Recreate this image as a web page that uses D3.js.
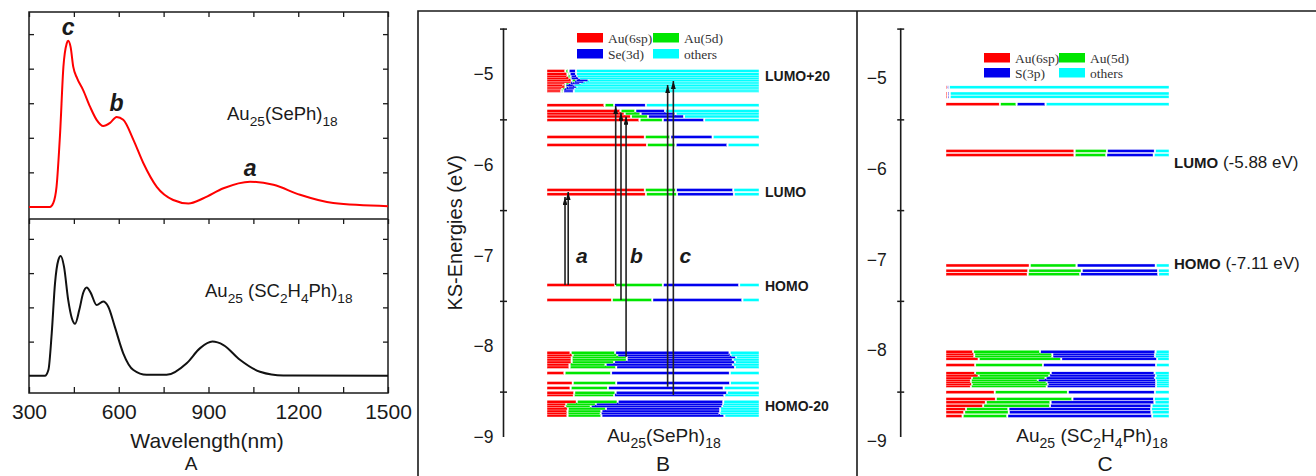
<!DOCTYPE html>
<html>
<head>
<meta charset="utf-8">
<script src="https://cdn.jsdelivr.net/npm/d3@7"></script>
<style>
    body { margin: 0; background: #fff; }
    svg { display: block; font-family: "Liberation Sans", Arial, sans-serif; }
</style>
</head>
<body>
<svg id="fig" width="1316" height="476"></svg>
<script>
// ---- panel A : absorption spectra ----
var wlSePh = [300, 370, 381, 392, 404, 415, 426, 431, 439, 448, 461, 481, 504, 526, 548, 571, 593, 615,
    649, 682, 727, 782, 833, 883, 950, 1039, 1117, 1206, 1317, 1500];
var absSePh = [0, 0, 0.11, 0.58, 2.14, 4.05, 4.73, 4.81, 4.63, 4.05, 3.72, 3.38, 2.9, 2.52, 2.34, 2.43, 2.6, 2.52,
    1.94, 1.27, 0.58, 0.2, 0.1, 0.25, 0.54, 0.73, 0.64, 0.35, 0.11, 0.02];
var wlSC = [300, 353, 365, 376, 387, 398, 406, 417, 431, 443, 454, 468, 481, 493, 506, 526, 548, 565, 587,
    615, 649, 693, 760, 827, 872, 913, 950, 1005, 1072, 1150, 1500];
var absSC = [0, 0, 0.18, 1.25, 2.71, 3.38, 3.5, 3.19, 2.22, 1.69, 1.52, 1.92, 2.42, 2.58, 2.43, 2.07, 2.17, 2.02, 1.43,
    0.66, 0.17, 0.03, 0.03, 0.37, 0.81, 1.0, 0.9, 0.47, 0.12, 0.01, 0];
var wlTicks = [300, 450, 600, 750, 900, 1050, 1200, 1350, 1500];
var peakLabels = ["c", "b", "a"];
var peakIndex = [7, 16, 25];   // index into wlSePh / absSePh

// ---- panel B : Au25(SePh)18 levels, energy (eV) and [Au6sp, Au5d, Se3d, others] ----
var energiesB = [-4.967, -5.000, -5.025, -5.044, -5.066, -5.083, -5.099, -5.121, -5.138, -5.154, -5.171, -5.187,
    -5.345, -5.408, -5.435, -5.468, -5.507, -5.694, -5.782, -6.278, -6.326,
    -7.325, -7.490, -8.071, -8.096, -8.118, -8.146, -8.174, -8.201, -8.229, -8.295, -8.405, -8.460,
    -8.512, -8.537, -8.611, -8.636, -8.658, -8.686, -8.714, -8.739, -8.763];
var compB = [
    [0.09, 0.015, 0.035, 0.86], [0.10, 0.01, 0.03, 0.86], [0.10, 0.015, 0.03, 0.855], [0.11, 0.005, 0.04, 0.845],
    [0.12, 0.02, 0.06, 0.80], [0.12, 0.01, 0.05, 0.82], [0.09, 0.02, 0.05, 0.84], [0.08, 0.01, 0.04, 0.87],
    [0.09, 0.01, 0.045, 0.855], [0.075, 0.015, 0.045, 0.865], [0.07, 0.01, 0.05, 0.87], [0.07, 0.01, 0.05, 0.87],
    [0.275, 0.045, 0.15, 0.53], [0.35, 0.07, 0.14, 0.44], [0.37, 0.075, 0.165, 0.39], [0.40, 0.08, 0.17, 0.35],
    [0.44, 0.11, 0.195, 0.255], [0.465, 0.12, 0.20, 0.215], [0.475, 0.135, 0.245, 0.145],
    [0.465, 0.147, 0.27, 0.118], [0.47, 0.147, 0.268, 0.115],
    [0.325, 0.225, 0.36, 0.09], [0.31, 0.19, 0.425, 0.075],
    [0.115, 0.21, 0.54, 0.135], [0.125, 0.21, 0.535, 0.13], [0.12, 0.26, 0.515, 0.105], [0.12, 0.26, 0.50, 0.12],
    [0.12, 0.20, 0.57, 0.11], [0.11, 0.17, 0.60, 0.12], [0.11, 0.22, 0.56, 0.11], [0.086, 0.22, 0.56, 0.134],
    [0.125, 0.205, 0.537, 0.133], [0.115, 0.176, 0.546, 0.163], [0.132, 0.195, 0.526, 0.147], [0.13, 0.19, 0.52, 0.16],
    [0.144, 0.193, 0.498, 0.165], [0.094, 0.14, 0.60, 0.166], [0.09, 0.12, 0.62, 0.17], [0.102, 0.18, 0.538, 0.18],
    [0.10, 0.16, 0.56, 0.18], [0.10, 0.157, 0.56, 0.183], [0.10, 0.16, 0.58, 0.16]
];
// transitions a, b, c: x as fraction of the bar, from / to energy
var arrowX = [0.085, 0.10, 0.324, 0.349, 0.373, 0.569, 0.596];
var arrowFrom = [-7.325, -7.325, -7.325, -7.490, -8.115, -8.446, -8.537];
var arrowTo = [-6.355, -6.300, -5.353, -5.426, -5.470, -5.121, -5.077];
var transLabels = ["a", "b", "c"];
var transLabelX = [0.164, 0.422, 0.653];
var levelNamesB = ["LUMO+20", "LUMO", "HOMO", "HOMO-20"];
var levelNameEB = [-5.025, -6.30, -7.335, -8.655];

// ---- panel C : Au25(SC2H4Ph)18 levels, [Au6sp, Au5d, S3p, others] ----
var energiesC = [-5.147, -5.215, -5.250, -5.334, -5.848, -5.893,
    -7.110, -7.167, -7.207,
    -8.060, -8.085, -8.111, -8.137, -8.207, -8.298, -8.322, -8.347, -8.372, -8.394, -8.416, -8.438,
    -8.507, -8.581, -8.618, -8.655, -8.691, -8.728, -8.769];
var compC = [
    [0.007, 0, 0.01, 0.983], [0.01, 0, 0.01, 0.98], [0.01, 0, 0.01, 0.98],
    [0.245, 0.075, 0.13, 0.55], [0.58, 0.145, 0.215, 0.06], [0.58, 0.142, 0.213, 0.065],
    [0.379, 0.21, 0.355, 0.056], [0.372, 0.24, 0.342, 0.046], [0.37, 0.235, 0.35, 0.045],
    [0.125, 0.30, 0.518, 0.057], [0.13, 0.35, 0.46, 0.06], [0.13, 0.35, 0.46, 0.06], [0.15, 0.37, 0.43, 0.05],
    [0.134, 0.304, 0.507, 0.055], [0.134, 0.339, 0.466, 0.061], [0.15, 0.316, 0.478, 0.056], [0.12, 0.33, 0.49, 0.06],
    [0.115, 0.30, 0.53, 0.055], [0.115, 0.34, 0.49, 0.055], [0.12, 0.34, 0.485, 0.055], [0.115, 0.34, 0.49, 0.055],
    [0.222, 0.328, 0.39, 0.06], [0.227, 0.343, 0.366, 0.064], [0.182, 0.29, 0.466, 0.062], [0.17, 0.30, 0.455, 0.075],
    [0.093, 0.19, 0.64, 0.077], [0.085, 0.20, 0.64, 0.075], [0.078, 0.20, 0.65, 0.072]
];
var levelNamesC = ["LUMO", "HOMO"];
var levelValuesC = [" (-5.88 eV)", " (-7.11 eV)"];
var levelNameEC = [-5.97, -7.09];

var energyTicks = [-9, -8, -7, -6, -5];
var energyMinor = [-8.5, -7.5, -6.5, -5.5, -4.5];
var legendB = ["Au(6sp)", "Au(5d)", "Se(3d)", "others"];
var legendC = ["Au(6sp)", "Au(5d)", "S(3p)", "others"];
var orbitalColors = ["#ff0000", "#00e600", "#0000ee", "#00ffff"];

var ink = "#1a1a1a";
var svg = d3.select("#fig");

// label with subscripts, parts = [[text, isSub], ...]
function subLabel(g, x, y, parts, size, anchor) {
    var t = g.append("text")
        .attr("x", x).attr("y", y)
        .attr("font-size", size)
        .attr("fill", ink)
        .attr("text-anchor", anchor || "start");
    parts.forEach(function (p, i) {
        var prevSub = i > 0 && parts[i - 1][1];
        var dy = 0;
        if (p[1] && !prevSub) dy = size * 0.3;
        if (!p[1] && prevSub) dy = -size * 0.3;
        t.append("tspan")
            .attr("font-size", p[1] ? size * 0.74 : size)
            .attr("dy", dy)
            .text(p[0]);
    });
    return t;
}

// frames round panels B and C
svg.append("path")
    .attr("d", "M418,476V11H1316M857,11V476")
    .attr("fill", "none").attr("stroke", ink).attr("stroke-width", 1.6);

// ================= panel A =================
var xA = d3.scaleLinear().domain([300, 1500]).range([29, 388]);
var yTop = d3.scaleLinear().domain([-0.35, 5.64]).range([219, 12]);
var yBot = d3.scaleLinear().domain([-0.5, 4.58]).range([393, 219]);
var gA = svg.append("g");

function noDomain(g) { g.select(".domain").remove(); }

gA.append("g").attr("transform", "translate(0,393)")
    .call(d3.axisBottom(xA).tickValues(wlTicks).tickSize(-6).tickPadding(11)
        .tickFormat(function (d) { return d % 300 === 0 ? d : ""; }))
    .call(noDomain)
    .call(function (g) {
        g.selectAll("text").attr("font-size", 21).attr("fill", ink)
            .attr("font-family", "Liberation Sans, Arial, sans-serif");
    });
gA.append("g").attr("transform", "translate(0,12)")
    .call(d3.axisTop(xA).tickValues(wlTicks).tickSize(-5).tickFormat("")).call(noDomain);
gA.append("g").attr("transform", "translate(0,219)")
    .call(d3.axisTop(xA).tickValues(wlTicks).tickSize(-5).tickFormat("")).call(noDomain);
gA.append("g").attr("transform", "translate(29,0)")
    .call(d3.axisLeft(yTop).tickValues([1, 2, 3, 4, 5]).tickSize(-5).tickFormat("")).call(noDomain);
gA.append("g").attr("transform", "translate(388,0)")
    .call(d3.axisRight(yTop).tickValues([1, 2, 3, 4, 5]).tickSize(-5).tickFormat("")).call(noDomain);
gA.append("g").attr("transform", "translate(29,0)")
    .call(d3.axisLeft(yBot).tickValues([1, 2, 3, 4]).tickSize(-5).tickFormat("")).call(noDomain);
gA.append("g").attr("transform", "translate(388,0)")
    .call(d3.axisRight(yBot).tickValues([1, 2, 3, 4]).tickSize(-5).tickFormat("")).call(noDomain);
gA.selectAll(".tick line").attr("stroke", ink).attr("stroke-width", 1.3);

gA.append("rect")
    .attr("x", xA(300)).attr("y", yTop.range()[1])
    .attr("width", xA(1500) - xA(300)).attr("height", yBot.range()[0] - yTop.range()[1])
    .attr("fill", "none").attr("stroke", ink).attr("stroke-width", 1.5);
gA.append("line")
    .attr("x1", xA(300)).attr("x2", xA(1500)).attr("y1", 219).attr("y2", 219)
    .attr("stroke", ink).attr("stroke-width", 1.5);

var lineTop = d3.line().curve(d3.curveMonotoneX)
    .x(function (d, i) { return xA(wlSePh[i]); })
    .y(function (d) { return yTop(d); });
var lineBot = d3.line().curve(d3.curveMonotoneX)
    .x(function (d, i) { return xA(wlSC[i]); })
    .y(function (d) { return yBot(d); });

gA.append("path").datum(absSePh).attr("d", lineTop)
    .attr("fill", "none").attr("stroke", "#ff0000").attr("stroke-width", 2);
gA.append("path").datum(absSC).attr("d", lineBot)
    .attr("fill", "none").attr("stroke", "#111").attr("stroke-width", 2);

gA.selectAll(".peak")
    .data(peakLabels)
    .enter().append("text")
    .attr("class", "peak")
    .attr("x", function (d, i) { return xA(wlSePh[peakIndex[i]]); })
    .attr("y", function (d, i) { return yTop(absSePh[peakIndex[i]]) - 6; })
    .attr("text-anchor", "middle")
    .attr("font-size", 23).attr("font-weight", "bold").attr("font-style", "italic")
    .attr("fill", ink)
    .text(function (d) { return d; });

subLabel(gA, 227, 120, [["Au", 0], ["25", 1], ["(SePh)", 0], ["18", 1]], 18.5);
subLabel(gA, 205, 297, [["Au", 0], ["25", 1], [" (SC", 0], ["2", 1], ["H", 0], ["4", 1], ["Ph)", 0], ["18", 1]], 18.5);

gA.append("text")
    .attr("x", 207).attr("y", 448)
    .attr("text-anchor", "middle").attr("font-size", 21).attr("fill", ink)
    .text("Wavelength(nm)");
gA.append("text")
    .attr("x", 191).attr("y", 470)
    .attr("text-anchor", "middle").attr("font-size", 19).attr("fill", ink)
    .text("A");

// ================= panels B and C =================
var yE = d3.scaleLinear().domain([-9, -4.5]).range([437, 28.6]);

function energyAxis(g, x, pad, labelShift) {
    g.append("line")
        .attr("x1", x).attr("x2", x)
        .attr("y1", yE(-4.5)).attr("y2", yE(-9))
        .attr("stroke", ink).attr("stroke-width", 1.6);
    g.append("g").attr("transform", "translate(" + (x + 3.5) + ",0)")
        .call(d3.axisLeft(yE).tickValues(energyMinor).tickSize(7).tickFormat(""))
        .call(noDomain)
        .selectAll("line").attr("stroke", ink).attr("stroke-width", 1.5);
    g.append("g").attr("transform", "translate(" + x + "," + labelShift + ")")
        .call(d3.axisLeft(yE).tickValues(energyTicks).tickSize(0).tickPadding(pad)
            .tickFormat(d3.format("d")))
        .call(noDomain)
        .selectAll("text").attr("font-size", 17.5).attr("fill", ink)
        .attr("font-family", "Liberation Sans, Arial, sans-serif");
}

function drawLevels(g, xs, energies, comps) {
    var gap = 1.5;
    var rows = energies.map(function (e, i) {
        var acc = 0;
        var segs = comps[i].map(function (f, k) {
            var s = { k: k, x0: acc, x1: acc + f };
            acc += f;
            return s;
        }).filter(function (s) { return s.x1 - s.x0 > 0; });
        return { e: e, segs: segs };
    }).sort(function (a, b) { return a.e - b.e; });

    g.selectAll(".level")
        .data(rows)
        .enter().append("g")
        .attr("class", "level")
        .selectAll("rect")
        .data(function (d) { return d.segs.map(function (s) { return { e: d.e, s: s, last: s === d.segs[d.segs.length - 1] }; }); })
        .enter().append("rect")
        .attr("x", function (d) { return xs(d.s.x0); })
        .attr("y", function (d) { return yE(d.e) - 1.5; })
        .attr("width", function (d) {
            var w = xs(Math.min(1, d.s.x1)) - xs(d.s.x0) - (d.last ? 0 : gap);
            return Math.max(0.6, w);
        })
        .attr("height", 3)
        .attr("fill", function (d) { return orbitalColors[d.s.k]; })
        .attr("stroke", "#fff").attr("stroke-width", 0.4);
}

function drawLegend(g, names, x0, y0, colW, rowH) {
    var item = g.selectAll(".leg")
        .data(names)
        .enter().append("g")
        .attr("class", "leg")
        .attr("transform", function (d, i) {
            return "translate(" + (x0 + (i % 2) * colW) + "," + (y0 + Math.floor(i / 2) * rowH) + ")";
        });
    item.append("rect")
        .attr("width", 26).attr("height", 9.5)
        .attr("fill", function (d, i) { return orbitalColors[i]; });
    item.append("text")
        .attr("x", 31).attr("y", 9.5)
        .attr("font-family", "Liberation Serif, Times New Roman, serif")
        .attr("font-size", 13.5).attr("fill", "#333")
        .text(function (d) { return d; });
}

// ---- B ----
var gB = svg.append("g");
var xB = d3.scaleLinear().domain([0, 1]).range([547, 759]);
energyAxis(gB, 503.5, 10, 0);
drawLevels(gB, xB, energiesB, compB);
drawLegend(gB, legendB, 577, 33, 76, 16);

gB.append("text")
    .attr("transform", "translate(462," + yE(-6.75) + ") rotate(-90)")
    .attr("text-anchor", "middle").attr("font-size", 20).attr("fill", ink)
    .text("KS-Energies (eV)");

gB.selectAll(".lvname")
    .data(levelNamesB)
    .enter().append("text")
    .attr("class", "lvname")
    .attr("x", 765)
    .attr("y", function (d, i) { return yE(levelNameEB[i]); })
    .attr("dy", "0.36em")
    .attr("font-size", 14).attr("font-weight", "bold").attr("fill", ink)
    .text(function (d) { return d; });

var defs = svg.append("defs");
defs.append("marker")
    .attr("id", "head")
    .attr("viewBox", "0 0 10 6")
    .attr("refX", 10).attr("refY", 3)
    .attr("markerUnits", "userSpaceOnUse")
    .attr("markerWidth", 8).attr("markerHeight", 4.8)
    .attr("orient", "auto")
    .append("path").attr("d", "M0,0L10,3L0,6z").attr("fill", "#111");

gB.selectAll(".trans")
    .data(arrowX)
    .enter().append("line")
    .attr("class", "trans")
    .attr("x1", function (d) { return xB(d); })
    .attr("x2", function (d) { return xB(d); })
    .attr("y1", function (d, i) { return yE(arrowFrom[i]); })
    .attr("y2", function (d, i) { return yE(arrowTo[i]); })
    .attr("stroke", "#222").attr("stroke-width", 1.6)
    .attr("marker-end", "url(#head)");

gB.selectAll(".tlab")
    .data(transLabels)
    .enter().append("text")
    .attr("class", "tlab")
    .attr("x", function (d, i) { return xB(transLabelX[i]); })
    .attr("y", yE(-7.08))
    .attr("text-anchor", "middle")
    .attr("font-size", 21).attr("font-weight", "bold").attr("font-style", "italic")
    .attr("fill", ink)
    .text(function (d) { return d; });

subLabel(gB, 664, 442, [["Au", 0], ["25", 1], ["(SePh)", 0], ["18", 1]], 19, "middle");
gB.append("text")
    .attr("x", 663).attr("y", 471)
    .attr("text-anchor", "middle").attr("font-size", 21).attr("fill", ink)
    .text("B");

// ---- C ----
var gC = svg.append("g");
var xC = d3.scaleLinear().domain([0, 1]).range([946, 1169]);
energyAxis(gC, 900.7, 14, 4);
drawLevels(gC, xC, energiesC, compC);
drawLegend(gC, legendC, 984, 53, 75, 15);

levelNamesC.forEach(function (name, i) {
    var t = gC.append("text")
        .attr("x", 1174).attr("y", yE(levelNameEC[i]))
        .attr("dy", "0.36em").attr("fill", ink);
    t.append("tspan").attr("font-size", 15).attr("font-weight", "bold").text(name);
    t.append("tspan").attr("font-size", 17).text(levelValuesC[i]);
});

subLabel(gC, 1092, 442, [["Au", 0], ["25", 1], [" (SC", 0], ["2", 1], ["H", 0], ["4", 1], ["Ph)", 0], ["18", 1]], 19, "middle");
gC.append("text")
    .attr("x", 1105).attr("y", 471)
    .attr("text-anchor", "middle").attr("font-size", 21).attr("fill", ink)
    .text("C");
</script>
</body>
</html>
